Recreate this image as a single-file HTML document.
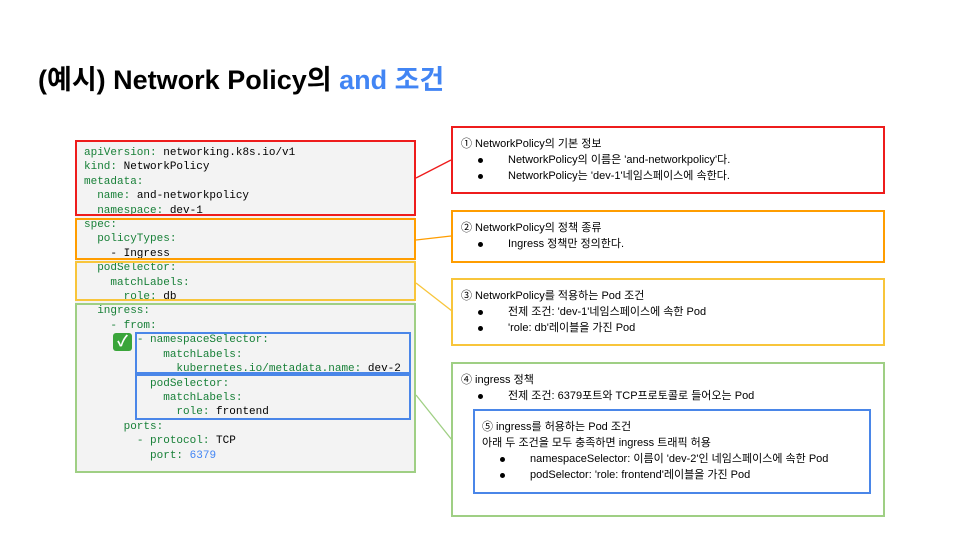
<!DOCTYPE html>
<html><head><meta charset="utf-8"><style>
body{margin:0;width:960px;height:540px;background:#fff;position:relative;overflow:hidden;font-family:"Liberation Sans","Noto Sans CJK KR",sans-serif}
.a{position:absolute;box-sizing:border-box}
.code{left:75px;top:140px;width:340px;height:332px;background:#f3f3f3}
.cl{position:absolute;font-family:"Liberation Mono",monospace;font-size:11px;white-space:pre;color:#000;line-height:14.4px}
.k{color:#188038}
.t{position:absolute;font-size:11px;white-space:nowrap;color:#000;line-height:14px}
.d{position:absolute;width:5px;height:5px;border-radius:50%;background:#000}
</style></head><body>
<div class="a" style="left:38px;top:58px;font-size:27px;font-weight:bold;white-space:nowrap">(예시) Network Policy의 <span style="color:#4285f4">and 조건</span></div>
<div class="a code"></div>
<div class="cl" style="left:84px;top:146px"><span class="k">apiVersion:</span> networking.k8s.io/v1
<span class="k">kind:</span> NetworkPolicy
<span class="k">metadata:</span>
  <span class="k">name:</span> and-networkpolicy
  <span class="k">namespace:</span> dev-1
<span class="k">spec:</span>
  <span class="k">policyTypes:</span>
    - Ingress
  <span class="k">podSelector:</span>
    <span class="k">matchLabels:</span>
      <span class="k">role:</span> db
  <span class="k">ingress:</span>
    <span class="k">- from:</span>
        <span class="k">- namespaceSelector:</span>
            <span class="k">matchLabels:</span>
              <span class="k">kubernetes.io/metadata.name:</span> dev-2
          <span class="k">podSelector:</span>
            <span class="k">matchLabels:</span>
              <span class="k">role:</span> frontend
      <span class="k">ports:</span>
        <span class="k">- protocol:</span> TCP
          <span class="k">port:</span> <span style="color:#4285f4">6379</span></div>
<div class="a" style="left:113px;top:333px;width:19px;height:18px;background:#3aa53a;border-radius:3px;color:#fff;font-size:15px;font-weight:bold;text-align:center;line-height:18px">✓</div>
<div class="a" style="left:75px;top:140px;width:341px;height:76px;border:2px solid #ee1c1c"></div>
<div class="a" style="left:75px;top:218px;width:341px;height:42px;border:2px solid #ff9d00"></div>
<div class="a" style="left:75px;top:261px;width:341px;height:40px;border:2px solid #f8c53b"></div>
<div class="a" style="left:75px;top:303px;width:341px;height:170px;border:2px solid #9fcf84"></div>
<div class="a" style="left:135px;top:332px;width:276px;height:42px;border:2px solid #4a86e8"></div>
<div class="a" style="left:135px;top:374px;width:276px;height:46px;border:2px solid #4a86e8"></div>
<svg class="a" style="left:0;top:0" width="960" height="540">
<line x1="416" y1="178" x2="451" y2="160" stroke="#ee1c1c" stroke-width="1.3"/>
<line x1="416" y1="240" x2="451" y2="236" stroke="#ff9d00" stroke-width="1.3"/>
<line x1="416" y1="283" x2="452" y2="311" stroke="#f8c53b" stroke-width="1.3"/>
<line x1="416" y1="395" x2="452" y2="440" stroke="#9fcf84" stroke-width="1.3"/>
</svg>
<div class="a" style="left:451px;top:126px;width:434px;height:68px;border:2px solid #ee1c1c"></div>
<div class="t" style="left:461px;top:137px">① NetworkPolicy의 기본 정보</div>
<div class="d" style="left:478px;top:158px"></div><div class="t" style="left:508px;top:153px">NetworkPolicy의 이름은 'and-networkpolicy'다.</div>
<div class="d" style="left:478px;top:174px"></div><div class="t" style="left:508px;top:169px">NetworkPolicy는 'dev-1'네임스페이스에 속한다.</div>
<div class="a" style="left:451px;top:210px;width:434px;height:53px;border:2px solid #ff9d00"></div>
<div class="t" style="left:461px;top:221px">② NetworkPolicy의 정책 종류</div>
<div class="d" style="left:478px;top:242px"></div><div class="t" style="left:508px;top:237px">Ingress 정책만 정의한다.</div>
<div class="a" style="left:451px;top:278px;width:434px;height:68px;border:2px solid #f8c53b"></div>
<div class="t" style="left:461px;top:289px">③ NetworkPolicy를 적용하는 Pod 조건</div>
<div class="d" style="left:478px;top:310px"></div><div class="t" style="left:508px;top:305px">전제 조건: 'dev-1'네임스페이스에 속한 Pod</div>
<div class="d" style="left:478px;top:326px"></div><div class="t" style="left:508px;top:321px">'role: db'레이블을 가진 Pod</div>
<div class="a" style="left:451px;top:362px;width:434px;height:155px;border:2px solid #9fcf84"></div>
<div class="t" style="left:461px;top:373px">④ ingress 정책</div>
<div class="d" style="left:478px;top:394px"></div><div class="t" style="left:508px;top:389px">전제 조건: 6379포트와 TCP프로토콜로 들어오는 Pod</div>
<div class="a" style="left:473px;top:409px;width:398px;height:85px;border:2px solid #4a86e8"></div>
<div class="t" style="left:482px;top:420px">⑤ ingress를 허용하는 Pod 조건</div>
<div class="t" style="left:482px;top:436px">아래 두 조건을 모두 충족하면 ingress 트래픽 허용</div>
<div class="d" style="left:500px;top:457px"></div><div class="t" style="left:530px;top:452px">namespaceSelector: 이름이 'dev-2'인 네임스페이스에 속한 Pod</div>
<div class="d" style="left:500px;top:473px"></div><div class="t" style="left:530px;top:468px">podSelector: 'role: frontend'레이블을 가진 Pod</div>
</body></html>
